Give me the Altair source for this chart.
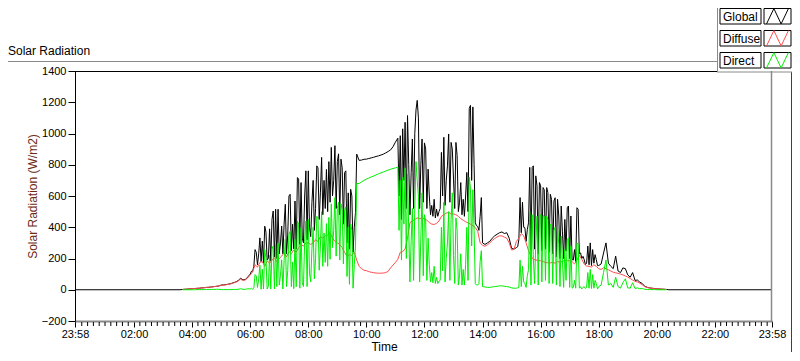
import altair as alt
import pandas as pd

# ---------------- time layout ----------------
AXIS_START = -2 / 60          # 23:58 of the previous day
AXIS_END = 24 - 2 / 60        # 23:58

# Global and Direct are sampled every 2.5 min where the sky is broken, 5 min elsewhere:
# (start "hh:mm", step in minutes, number of samples)
SEGMENTS = [("03:40", 5, 28), ("06:00", 2.5, 88), ("09:40", 5, 17),
            ("11:05", 2.5, 70), ("14:00", 5, 14), ("15:10", 2.5, 68), ("18:00", 5, 29)]
# Diffuse is sampled every 5 minutes from 03:40
DIFFUSE_START = "03:40"
DIFFUSE_STEP = 5

# ---------------- values (W/m2) ----------------
GLOBAL = [
    # 03:40 - 05:55 (5 min)
    2, 3, 4, 6, 7, 8, 9, 10, 12, 13, 15, 16, 18, 20, 22, 24,
    30, 31, 33, 36, 39, 45, 50, 58, 74, 63, 66, 82,
    # 06:00 - 09:37.5 (2.5 min)
    100, 118, 118, 150, 257, 240, 160, 230, 332, 180, 311, 170,
    407, 369, 190, 200, 390, 185, 450, 504, 210, 515, 200, 515,
    230, 300, 407, 230, 420, 547, 230, 350, 600, 611, 250, 420,
    262, 568, 260, 718, 708, 290, 686, 330, 300, 600, 761, 320,
    761, 400, 340, 560, 700, 380, 520, 793, 780, 450, 620, 847,
    480, 700, 520, 770, 500, 820, 560, 911, 600, 700, 922, 520,
    820, 870, 480, 836, 780, 420, 750, 761, 300, 620, 260, 643,
    600, 240, 400, 493,
    # 09:40 - 11:00 (5 min)
    868, 828, 830, 835, 836, 840, 844, 848, 853, 857, 862, 868,
    876, 885, 895, 915, 945,
    # 11:05 - 13:57.5 (2.5 min)
    970, 600, 986, 450, 1030, 700, 1072, 520, 1115, 800, 480, 750,
    965, 520, 1000, 1150, 1212, 1100, 520, 800, 965, 560, 940, 900,
    520, 772, 600, 480, 540, 470, 579, 460, 515, 470, 500, 520,
    879, 600, 976, 540, 700, 793, 997, 560, 943, 900, 708, 520,
    943, 858, 500, 560, 686, 480, 579, 470, 600, 751, 500, 1160,
    1180, 700, 1170, 800, 429, 410, 405, 380, 470, 590,
    # 14:00 - 15:05 (5 min)
    300, 290, 300, 310, 330, 345, 355, 365, 370, 360, 365, 330, 265, 260,
    # 15:10 - 17:57.5 (2.5 min)
    270, 275, 320, 590, 365, 560, 400, 397, 310, 385, 429, 783,
    250, 783, 793, 260, 729, 665, 230, 686, 665, 250, 654, 640,
    260, 654, 622, 240, 611, 579, 230, 568, 589, 210, 579, 472,
    200, 536, 375, 200, 450, 247, 525, 536, 200, 472, 193, 190,
    257, 180, 525, 515, 230, 236, 200, 214, 193, 161, 170, 280,
    160, 300, 155, 257, 170, 225, 193, 155,
    # 18:00 - 20:20 (5 min)
    155, 165, 235, 300, 170, 150, 135, 215, 120, 110, 140, 135,
    95, 80, 110, 60, 62, 48, 40, 22, 16, 12, 10, 8,
    6, 5, 4, 3, 2,
]

DIRECT = [
    # 03:40 - 05:55
    0, 0, 0, 0, 0, 0, 1, 1, 1, 1, 2, 2, 2, 2, 3, 3,
    1, 1, 1, 1, 1, 2, 2, 3, 6, 3, 3, 6,
    # 06:00 - 09:37.5
    5, 10, 3, 13, 97, 88, 15, 70, 157, 3, 131, 5,
    257, 202, 5, 23, 220, 5, 260, 280, 5, 290, 20, 300,
    30, 93, 192, 5, 185, 325, 20, 123, 355, 374, 20, 178,
    7, 321, 20, 440, 420, 10, 396, 45, 20, 310, 440, 20,
    450, 105, 50, 265, 400, 70, 200, 470, 460, 125, 280, 500,
    150, 363, 175, 423, 150, 463, 195, 550, 270, 380, 590, 215,
    520, 560, 190, 550, 510, 165, 510, 530, 85, 400, 35, 421,
    380, 10, 160, 278,
    # 09:40 - 11:00
    680, 680, 690, 700, 708, 715, 722, 728, 735, 742, 748, 754,
    760, 766, 771, 776, 780,
    # 11:05 - 13:57.5
    785, 380, 700, 190, 720, 420, 780, 200, 740, 380, 50, 315,
    520, 60, 520, 820, 700, 600, 50, 330, 620, 90, 480, 440,
    60, 330, 160, 50, 110, 45, 150, 40, 80, 40, 55, 60,
    400, 120, 560, 50, 200, 300, 500, 60, 450, 620, 220, 40,
    460, 380, 30, 90, 230, 30, 130, 30, 160, 400, 60, 720,
    650, 280, 640, 380, 40, 30, 30, 40, 180, 250,
    # 14:00 - 15:05
    20, 18, 15, 15, 18, 20, 22, 25, 25, 22, 20, 18, 12, 10,
    # 15:10 - 17:57.5
    10, 12, 15, 190, 20, 150, 50, 40, 15, 90, 130, 500,
    30, 480, 200, 40, 300, 470, 30, 483, 480, 50, 475, 470,
    60, 470, 450, 40, 420, 400, 40, 380, 400, 30, 400, 290,
    20, 343, 190, 15, 260, 60, 320, 332, 15, 280, 10, 15,
    60, 10, 300, 290, 10, 20, 5, 15, 20, 8, 15, 110,
    10, 130, 8, 97, 10, 60, 40, 5,
    # 18:00 - 20:20
    20, 30, 110, 190, 30, 40, 15, 80, 20, 10, 45, 70,
    12, 10, 45, 8, 12, 6, 8, 3, 2, 1, 1, 1,
    0, 0, 0, 0, 0,
]

DIFFUSE = [
    2, 3, 4, 6,                                                  # 03:40-03:55
    7, 8, 9, 10, 12, 13, 15, 16, 18, 20, 22, 24,                 # 04
    29, 30, 32, 35, 38, 43, 48, 55, 68, 60, 63, 76,              # 05
    95, 115, 160, 145, 175, 180, 150, 185, 170, 190, 205, 180,   # 06
    200, 215, 235, 210, 245, 230, 255, 240, 270, 290, 280, 300,  # 07
    300, 290, 300, 320, 310, 340, 330, 345, 350, 365, 330, 310,  # 08
    300, 290, 270, 240, 215, 225, 220, 240, 190, 150, 135, 125,  # 09
    122, 116, 112, 109, 107, 106, 106, 107, 110, 118, 140, 158,  # 10
    175, 195, 240, 245, 260, 330, 430, 440, 450, 460, 455, 460,  # 11
    455, 445, 430, 420, 418, 425, 440, 470, 480, 490, 495, 485,  # 12
    485, 480, 470, 455, 445, 435, 428, 420, 410, 398, 375, 300,  # 13
    285, 278, 288, 300, 315, 328, 338, 345, 345, 337, 330, 300,  # 14
    255, 258, 310, 330, 360, 345, 300, 250, 215, 195, 190, 188,  # 15
    185, 180, 175, 172, 172, 175, 170, 180, 178, 180, 190, 185,  # 16
    185, 180, 165, 190, 220, 195, 165, 152, 150, 145, 160, 150,  # 17
    135, 130, 140, 135, 128, 120, 112, 108, 105, 100, 95, 88,    # 18
    82, 72, 62, 54, 50, 42, 32, 20, 15, 11, 9, 7,                # 19
    6, 5, 4, 3, 2,                                               # 20:00-20:20
]

SERIES = ["Global", "Diffuse", "Direct"]
COLORS = ["#000000", "#ff4d4d", "#00ee00"]

MAJOR_TICKS = [AXIS_START, 2, 4, 6, 8, 10, 12, 14, 16, 18, 20, 22, AXIS_END]
Y_TICKS = [-200, 0, 200, 400, 600, 800, 1000, 1200, 1400]
MINOR_TICKS = [k * 0.2 for k in range(1, 120) if k % 10 != 0]

FONT = "Liberation Sans"


# ---------------- tables ----------------
def hm(s):
    h, m = s.split(":")
    return int(h) + int(m) / 60


def segment_hours():
    hours = []
    for start, step, n in SEGMENTS:
        t0 = hm(start)
        hours += [t0 + i * step / 60 for i in range(n)]
    return hours


seg_hours = segment_hours()
last_h = seg_hours[-1]
global_df = pd.DataFrame({
    "hour": [AXIS_START, hm("03:35")] + seg_hours + [last_h + 5 / 60, AXIS_END],
    "value": [0, 0] + GLOBAL + [0, 0],
})
direct_df = pd.DataFrame({"hour": seg_hours, "value": DIRECT})
diffuse_df = pd.DataFrame({
    "hour": [hm(DIFFUSE_START) + i * DIFFUSE_STEP / 60 for i in range(len(DIFFUSE))],
    "value": DIFFUSE,
})
minor_df = pd.DataFrame({"hour": MINOR_TICKS})
one = pd.DataFrame({"a": [0]})

W, H = 697, 250

x_axis = alt.Axis(
    values=MAJOR_TICKS,
    labelExpr="datum.value < 1 || datum.value > 23 ? '23:58' : (datum.value < 10 ? '0' : '') + format(datum.value, '.0f') + ':00'",
    tickSize=6, tickColor="#000000", tickWidth=1,
    domain=True, domainColor="#8a8a8a", domainWidth=2,
    labelFont=FONT, labelFontSize=11, labelColor="#000000", labelPadding=1,
    labelFlush=False, labelOverlap=False, labelBound=False,
    grid=False,
    title="Time", titleFont=FONT, titleFontSize=12, titleFontWeight="normal",
    titleColor="#000000", titleX=309, titleY=29, titleBaseline="alphabetic",
    titleAlign="center", titleAnchor="start",
)
y_axis = alt.Axis(
    values=Y_TICKS, format="d", tickSize=7, tickColor="#000000",
    domain=True, domainColor="#000000", domainWidth=1,
    labelFont=FONT, labelFontSize=11, labelColor="#000000", labelPadding=2,
    grid=False,
    title="Solar Radiation (W/m2)", titleFont=FONT, titleFontSize=12,
    titleFontWeight="normal", titleColor="#6e2a12",
    titleAngle=270, titleX=-43, titleY=125, titleAlign="center",
    titleBaseline="middle", titleAnchor="start",
)
x_scale = alt.Scale(domain=[AXIS_START, AXIS_END], nice=False, zero=False)
y_scale = alt.Scale(domain=[-200, 1400], nice=False, zero=False)

X = alt.X("hour:Q", scale=x_scale, axis=x_axis)
Y = alt.Y("value:Q", scale=y_scale, axis=y_axis)

layers = []
for df, col in zip([global_df, diffuse_df, direct_df], COLORS):
    layers.append(
        alt.Chart(df).mark_line(color=col, strokeWidth=1, interpolate="linear").encode(x=X, y=Y)
    )

# minor ticks under the time axis
layers.append(
    alt.Chart(minor_df).mark_rule(color="#000000", strokeWidth=1).encode(
        x=X, y=alt.value(H + 1), y2=alt.value(H + 5)
    )
)


def rule(x, y, x2=None, y2=None, color="#000000", w=1):
    enc = {"x": alt.value(x), "y": alt.value(y)}
    if x2 is not None:
        enc["x2"] = alt.value(x2)
    if y2 is not None:
        enc["y2"] = alt.value(y2)
    return alt.Chart(one).mark_rule(color=color, strokeWidth=w).encode(**enc)


LEG_LEFT = 642
# plot frame: top black, right gray
layers.append(rule(0, 0.5, x2=LEG_LEFT, color="#000000"))
layers.append(rule(W - 0.5, 0, y2=H, color="#8a8a8a", w=1.5))
# outer panel frame
layers.append(rule(-67, -9.5, x2=LEG_LEFT, color="#8a8a8a"))
layers.append(rule(716.5, 1, y2=281, color="#404040"))
# legend panel borders
layers.append(rule(LEG_LEFT + 0.5, -63, y2=1, color="#8a8a8a"))
layers.append(rule(LEG_LEFT, 1, x2=717, color="#8a8a8a"))

# panel title
layers.append(
    alt.Chart(one).mark_text(text="Solar Radiation", align="left", baseline="middle",
                             font=FONT, fontSize=12, color="#000000").encode(
        x=alt.value(-67), y=alt.value(-20))
)

# legend
ZIG = "M-1,0.7L-0.33,-0.7L0.33,0.7L1,-0.7"
row_tops = [-62.5, -40.5, -18.5]
row_h = 15.5
for name, col, top in zip(SERIES, COLORS, row_tops):
    layers.append(
        alt.Chart(one).mark_rect(fill="#ffffff", stroke="#000000", strokeWidth=1).encode(
            x=alt.value(645), x2=alt.value(686), y=alt.value(top), y2=alt.value(top + row_h))
    )
    layers.append(
        alt.Chart(one).mark_rect(fill="#ffffff", stroke="#000000", strokeWidth=1).encode(
            x=alt.value(689), x2=alt.value(716), y=alt.value(top), y2=alt.value(top + row_h))
    )
    layers.append(
        alt.Chart(one).mark_text(text=name, align="left", baseline="middle",
                                 font=FONT, fontSize=12, color="#000000").encode(
            x=alt.value(648), y=alt.value(top + row_h / 2 + 0.5))
    )
    layers.append(
        alt.Chart(one).mark_point(shape=ZIG, size=480, filled=False, stroke=col,
                                  strokeWidth=1, opacity=1).encode(
            x=alt.value(702.5), y=alt.value(top + row_h / 2))
    )

chart = alt.layer(*layers).properties(
    width=W, height=H,
    padding={"left": 67, "top": 63, "right": 20, "bottom": 31},
    autosize=alt.AutoSizeParams(type="none"),
    background="#ffffff",
).configure_view(stroke=None)

chart.save("out.html", embed_options={"renderer": "svg", "actions": False})
